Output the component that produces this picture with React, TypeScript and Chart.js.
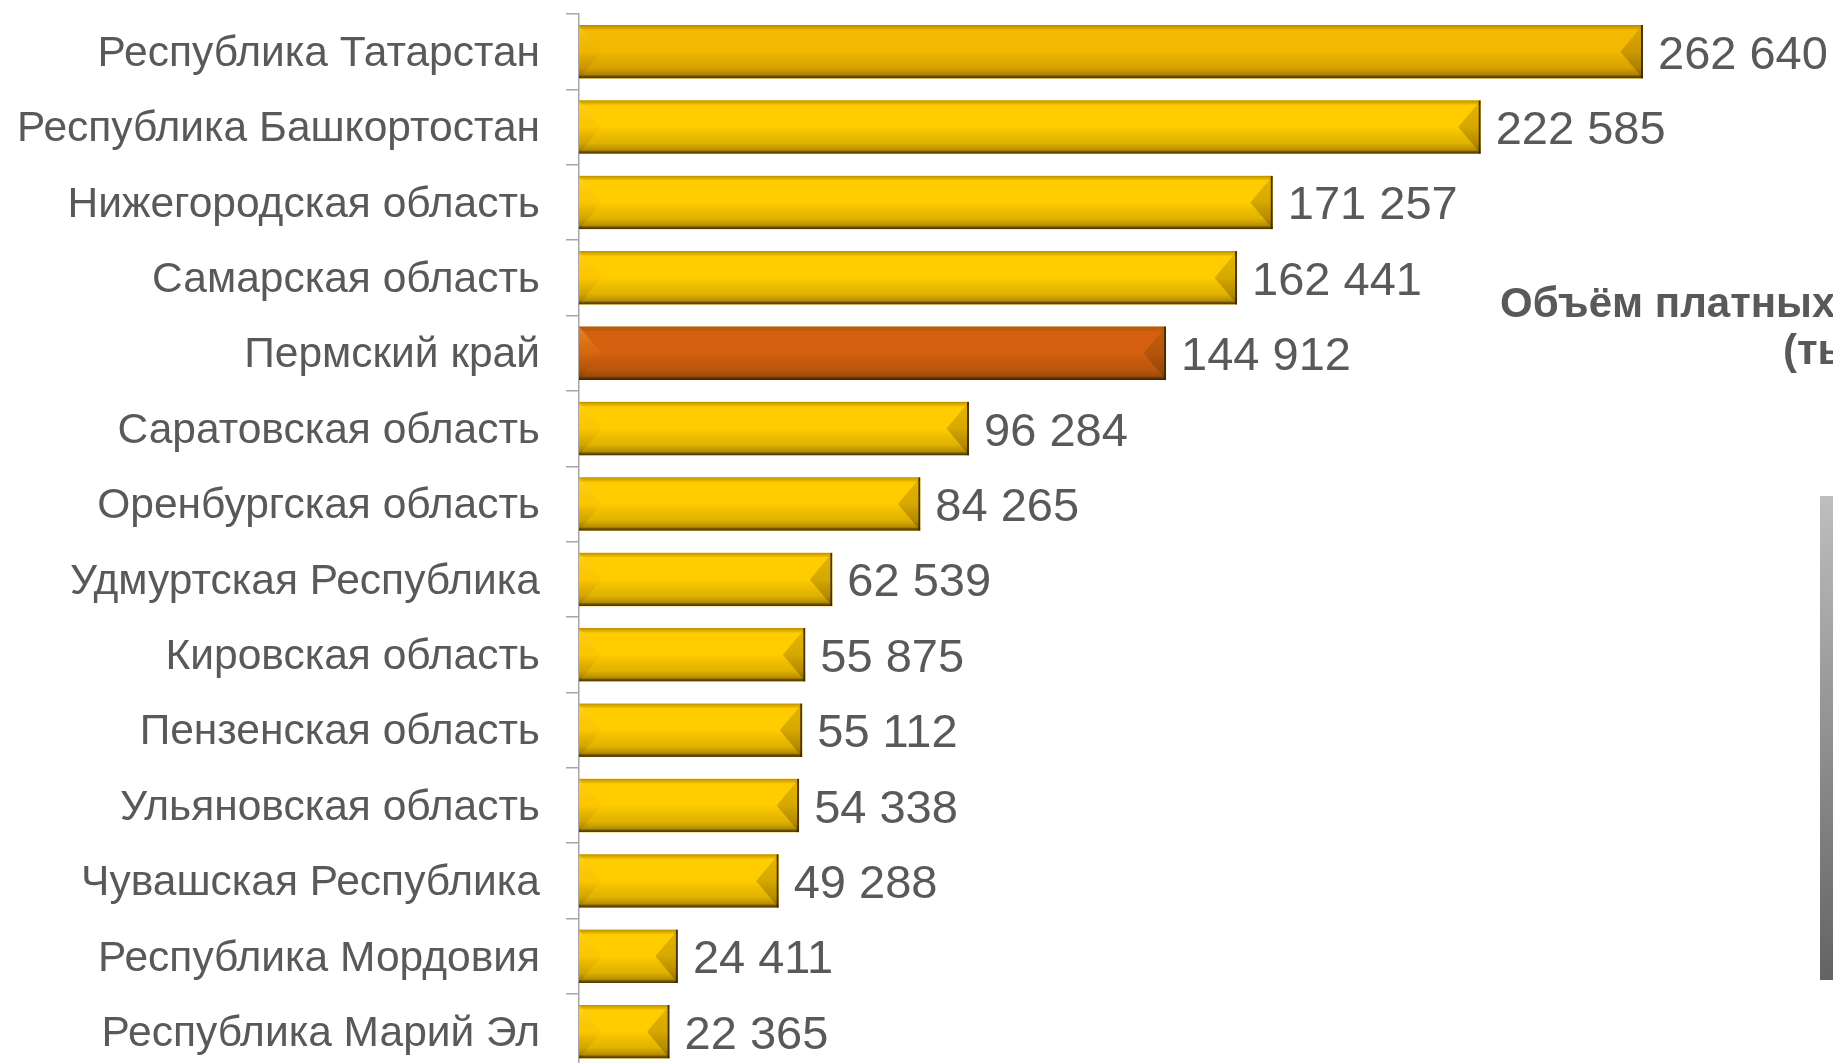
import React, { useEffect, useRef } from "react";
import { Chart, registerables } from "chart.js";

Chart.register(...registerables);

const categories = [
  "Республика Татарстан",
  "Республика Башкортостан",
  "Нижегородская область",
  "Самарская область",
  "Пермский край",
  "Саратовская область",
  "Оренбургская область",
  "Удмуртская Республика",
  "Кировская область",
  "Пензенская область",
  "Ульяновская область",
  "Чувашская Республика",
  "Республика Мордовия",
  "Республика Марий Эл",
];

const values = [262640, 222585, 171257, 162441, 144912, 96284, 84265, 62539, 55875, 55112, 54338, 49288, 24411, 22365];

const barColors = [
  "#F2B900", "#FFCC00", "#FFCC00", "#FFCC00", "#D4600F", "#FFCC00", "#FFCC00",
  "#FFCC00", "#FFCC00", "#FFCC00", "#FFCC00", "#FFCC00", "#FFCC00", "#FFCC00",
];

const titleLines = ["Объём платных услуг населению", "(тыс. руб.)"];

const FONT = "'Liberation Sans', Arial, sans-serif";
const TEXT = "#595959";

const fmt = (v: number) => String(v).replace(/\B(?=(\d{3})+(?!\d))/g, " ");

const bevelPlugin = {
  id: "bevel",
  afterDatasetsDraw(chart: any) {
    const ctx = chart.ctx as CanvasRenderingContext2D;
    const meta = chart.getDatasetMeta(0);
    meta.data.forEach((el: any, i: number) => {
      const { x, y, base, height } = el.getProps(["x", "y", "base", "height"], true);
      const left = Math.min(x, base);
      const right = Math.max(x, base);
      const top = y - height / 2;
      const bottom = y + height / 2;
      const w = right - left;
      const bev = Math.min(height * 0.42, w / 2);
      ctx.save();
      ctx.beginPath();
      ctx.rect(left, top, w, height);
      ctx.clip();
      // vertical shading
      const g = ctx.createLinearGradient(0, top, 0, bottom);
      g.addColorStop(0, "rgba(130,90,0,0.55)");
      g.addColorStop(0.05, "rgba(130,90,0,0.25)");
      g.addColorStop(0.09, "rgba(0,0,0,0)");
      g.addColorStop(0.5, "rgba(0,0,0,0)");
      g.addColorStop(0.8, "rgba(70,45,0,0.16)");
      g.addColorStop(0.93, "rgba(60,40,0,0.38)");
      g.addColorStop(0.96, "rgba(50,30,0,0.7)");
      g.addColorStop(1, "rgba(40,25,0,0.85)");
      ctx.fillStyle = g;
      ctx.fillRect(left, top, w, height);
      // left bevel
      ctx.beginPath();
      ctx.moveTo(left, top);
      ctx.lineTo(left + bev, y);
      ctx.lineTo(left, bottom);
      ctx.closePath();
      const gl = ctx.createLinearGradient(0, top, 0, bottom);
      gl.addColorStop(0, "rgba(255,235,120,0.3)");
      gl.addColorStop(0.5, "rgba(230,150,0,0.12)");
      gl.addColorStop(1, "rgba(0,0,0,0.1)");
      ctx.fillStyle = gl;
      ctx.fill();
      // right bevel
      ctx.beginPath();
      ctx.moveTo(right, top);
      ctx.lineTo(right - bev, y);
      ctx.lineTo(right, bottom);
      ctx.closePath();
      const gr = ctx.createLinearGradient(0, top, 0, bottom);
      gr.addColorStop(0, "rgba(110,70,0,0.18)");
      gr.addColorStop(1, "rgba(60,35,0,0.3)");
      ctx.fillStyle = gr;
      ctx.fill();
      // right edge
      ctx.fillStyle = "rgba(55,35,0,0.85)";
      ctx.fillRect(right - 2, top, 2, height);
      ctx.restore();

      // value label
      ctx.save();
      ctx.font = `47px ${FONT}`;
      ctx.fillStyle = TEXT;
      ctx.textAlign = "left";
      ctx.textBaseline = "middle";
      ctx.fillText(fmt(values[i]), right + 15, y + 4);
      ctx.restore();
    });
  },
  afterDraw(chart: any) {
    const ctx = chart.ctx as CanvasRenderingContext2D;
    ctx.save();
    ctx.font = `bold 42px ${FONT}`;
    ctx.fillStyle = TEXT;
    ctx.textAlign = "left";
    ctx.textBaseline = "alphabetic";
    ctx.fillText(titleLines[0], 1500, 317);
    ctx.fillText(titleLines[1], 1783, 364);
    const gg = ctx.createLinearGradient(0, 496, 0, 980);
    gg.addColorStop(0, "#BEBEBE");
    gg.addColorStop(1, "#636363");
    ctx.fillStyle = gg;
    ctx.fillRect(1820, 496, 13, 484);
    ctx.restore();
  },
};

export default function App() {
  const ref = useRef<HTMLCanvasElement | null>(null);
  useEffect(() => {
    if (!ref.current) return;
    const chart = new Chart(ref.current, {
      type: "bar",
      data: {
        labels: categories,
        datasets: [
          {
            data: values,
            backgroundColor: barColors,
            borderWidth: 0,
            categoryPercentage: 1,
            barPercentage: 0.71,
          },
        ],
      },
      options: {
        indexAxis: "y",
        responsive: false,
        animation: false,
        events: [],
        layout: { padding: { left: 0, right: 0, top: 14, bottom: 10.6 } },
        plugins: { legend: { display: false }, tooltip: { enabled: false }, title: { display: false } },
        scales: {
          x: { display: false, min: 0, max: 309540 },
          y: {
            afterFit: (s: any) => {
              s.width = 579;
              s.paddingTop = 0;
              s.paddingBottom = 0;
            },
            grid: {
              display: true,
              drawOnChartArea: false,
              drawTicks: true,
              tickLength: 13,
              color: "#a6a6a6",
              lineWidth: 1.5,
              offset: true,
            },
            border: { display: true, color: "#a6a6a6", width: 1.5 },
            ticks: {
              color: TEXT,
              padding: 26,
              labelOffset: 2.5,
              font: { size: 42.5, family: FONT },
            },
          },
        },
      },
      plugins: [bevelPlugin],
    } as any);
    return () => chart.destroy();
  }, []);
  return (
    <div style={{ position: "fixed", left: 0, top: 0, width: 1833, height: 1063, overflow: "hidden", background: "#fff" }}>
      <canvas ref={ref} width={1833} height={1080} style={{ display: "block" }} />
    </div>
  );
}
